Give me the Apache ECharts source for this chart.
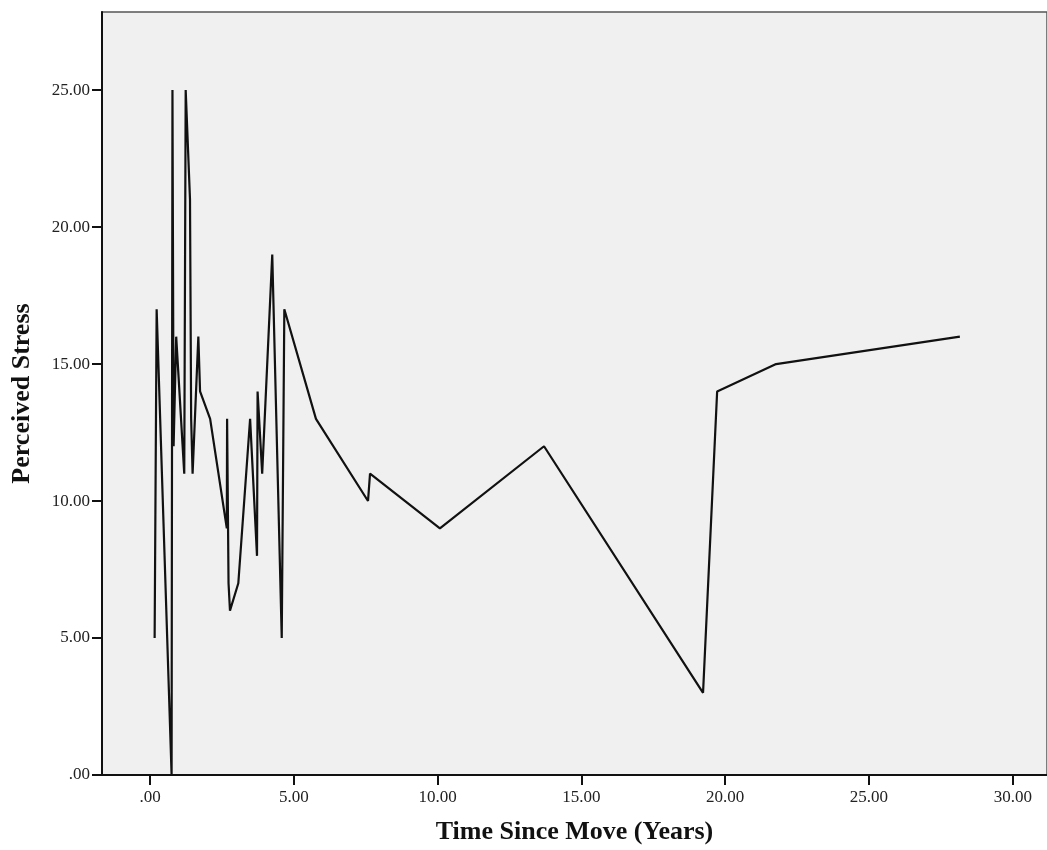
<!DOCTYPE html>
<html>
<head>
<meta charset="utf-8">
<script src="https://cdn.jsdelivr.net/npm/echarts@6/dist/echarts.min.js"></script>
<style>
  html, body { margin: 0; padding: 0; background: #fff; }
  #chart { width: 1047px; height: 850px; }
</style>
</head>
<body>
<div id="chart"></div>
<script>
// time since move (years), sorted as plotted
var years = [0.16, 0.23, 0.75, 0.78, 0.82, 0.91, 1.19, 1.24, 1.39, 1.43, 1.48, 1.68, 1.74,
	2.09, 2.67, 2.68, 2.73, 2.78, 3.07, 3.48, 3.72, 3.74, 3.90, 4.25, 4.58, 4.67,
	5.77, 7.58, 7.65, 10.08, 13.70, 19.23, 19.72, 21.77, 28.16];
// perceived stress
var stress = [5, 17, 0, 25, 12, 16, 11, 25, 21, 13, 11, 16, 14,
	13, 9, 13, 7, 6, 7, 13, 8, 14, 11, 19, 5, 17,
	13, 10, 11, 9, 12, 3, 14, 15, 16];
var xTicks = [0, 5, 10, 15, 20, 25, 30];
var yTicks = [0, 5, 10, 15, 20, 25];

var points = years.map(function(x, i) { return [x, stress[i]]; });

var fmt = function(v) {
	var s = v.toFixed(2);
	return s.indexOf('0.') === 0 ? s.substring(1) : s;
};

var chart = echarts.init(document.getElementById('chart'));
var option = {
	backgroundColor: '#ffffff',
	animation: false,
	textStyle: { fontFamily: 'Liberation Serif' },
	grid: {
		left: 102,
		top: 12,
		right: 0,
		bottom: 72,
		show: true,
		backgroundColor: '#f0f0f0',
		borderColor: '#555555',
		borderWidth: 1.5
	},
	xAxis: {
		type: 'value',
		min: -1.67,
		max: 31.19,
		name: 'Time Since Move (Years)',
		nameLocation: 'middle',
		nameGap: 44,
		nameTextStyle: { fontFamily: 'Liberation Serif', fontSize: 26, fontWeight: 'bold', color: '#111' },
		axisLine: { show: true, onZero: false, lineStyle: { color: '#111', width: 2 } },
		axisTick: { show: true, length: 10, lineStyle: { color: '#111', width: 2 }, customValues: xTicks },
		axisLabel: { customValues: xTicks, formatter: fmt, fontSize: 17, color: '#222', margin: 14 },
		splitLine: { show: false }
	},
	yAxis: {
		type: 'value',
		min: 0,
		max: 27.85,
		name: 'Perceived Stress',
		nameLocation: 'middle',
		nameGap: 67,
		nameTextStyle: { fontFamily: 'Liberation Serif', fontSize: 26, fontWeight: 'bold', color: '#111' },
		axisLine: { show: true, onZero: false, lineStyle: { color: '#111', width: 2 } },
		axisTick: { show: true, length: 10, lineStyle: { color: '#111', width: 2 }, customValues: yTicks },
		axisLabel: { customValues: yTicks, formatter: fmt, fontSize: 17, color: '#222', margin: 12 },
		splitLine: { show: false }
	},
	series: [{
		type: 'line',
		data: points,
		showSymbol: false,
		lineStyle: { color: '#111', width: 2.2 }
	}]
};
chart.setOption(option);
</script>
</body>
</html>
